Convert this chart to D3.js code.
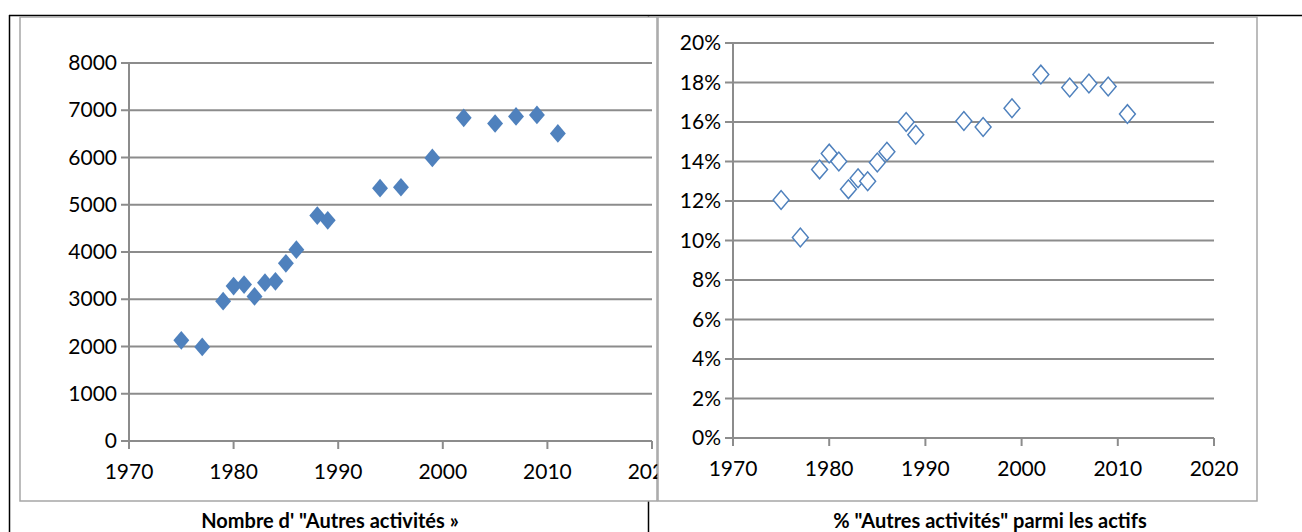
<!DOCTYPE html>
<html><head><meta charset="utf-8">
<script src="https://cdn.jsdelivr.net/npm/d3@7"></script>
<style>body{margin:0;background:#fff}text{font-family:Lato,"Open Sans",sans-serif}</style>
</head><body><svg id="c" width="1302" height="532"></svg>
<script>
var years = [1975,1977,1979,1980,1981,1982,1983,1984,1985,1986,1988,1989,1994,1996,1999,2002,2005,2007,2009,2011];
var counts = [2130,1990,2960,3280,3310,3060,3350,3380,3760,4050,4770,4670,5350,5370,5990,6840,6720,6870,6900,6510];
var shares = [12.05,10.15,13.6,14.4,14.0,12.6,13.15,13.0,13.95,14.5,16.0,15.35,16.05,15.75,16.7,18.4,17.75,17.95,17.8,16.4];
var xTicks = [1970,1980,1990,2000,2010,2020];
var titles = ['Nombre d\' "Autres activités »', '% "Autres activités" parmi les actifs'];

var svg = d3.select('#c');
svg.append('line').attr('x1',9).attr('x2',1302).attr('y1',15.5).attr('y2',15.5).attr('stroke','#000').attr('stroke-width',1.5);
svg.append('line').attr('x1',9.5).attr('x2',9.5).attr('y1',15).attr('y2',532).attr('stroke','#000').attr('stroke-width',1.5);
svg.append('line').attr('x1',648.5).attr('x2',648.5).attr('y1',15).attr('y2',532).attr('stroke','#000').attr('stroke-width',1.5);

function chart(o){
  var g = svg.append('g');
  g.append('rect').attr('x',o.fx).attr('y',17).attr('width',o.fw).attr('height',484).attr('fill','#fff').attr('stroke','#a6a6a6').attr('stroke-width',1.5);
  var x = d3.scaleLinear().domain([1970,2020]).range([o.x0,o.x1]);
  var y = d3.scaleLinear().domain([0,o.ymax]).range([o.y0,o.y1]);
  g.selectAll('.gl').data(o.yTicks).enter().append('line')
    .attr('x1',o.x0-8).attr('x2',o.x1).attr('y1',d=>y(d)).attr('y2',d=>y(d)).attr('stroke','#8c8c8c').attr('stroke-width',2);
  g.append('line').attr('x1',o.x0).attr('x2',o.x0).attr('y1',o.y1).attr('y2',o.y0).attr('stroke','#8c8c8c').attr('stroke-width',2);
  g.selectAll('.xt').data(xTicks).enter().append('line')
    .attr('x1',d=>x(d)).attr('x2',d=>x(d)).attr('y1',o.y0).attr('y2',o.y0+8).attr('stroke','#8c8c8c').attr('stroke-width',2);
  g.selectAll('.yl').data(o.yTicks).enter().append('text')
    .attr('x',o.x0-12).attr('y',d=>y(d)+7).attr('text-anchor','end').attr('font-size',21).text(o.fmt);
  g.selectAll('.xl').data(xTicks).enter().append('text')
    .attr('x',d=>x(d)).attr('y',o.y0+38).attr('text-anchor','middle').attr('font-size',21).text(d=>d);
  var sym = d3.symbol().type(d3.symbolSquare).size(175);
  g.selectAll('.pt').data(o.vals).enter().append('path')
    .attr('d',sym).attr('transform',(d,i)=>'translate('+x(years[i])+','+y(d)+') scale(0.85,1) rotate(45)')
    .attr('fill',o.filled?'#4f81bd':'#fff').attr('stroke','#4f81bd').attr('stroke-width',o.filled?0:1.6);
  svg.append('text').attr('x',o.cx).attr('y',528).attr('text-anchor','middle').attr('font-size',20).attr('font-weight','bold').text(o.title);
}
chart({fx:20,fw:637,x0:129,x1:652,y0:441,y1:63,ymax:8000,yTicks:d3.range(0,8001,1000),fmt:d=>d,vals:counts,filled:true,cx:330,title:titles[0]});
chart({fx:658,fw:599,x0:733,x1:1214,y0:438,y1:43,ymax:20,yTicks:d3.range(0,21,2),fmt:d=>d+'%',vals:shares,filled:false,cx:990,title:titles[1]});
</script></body></html>
